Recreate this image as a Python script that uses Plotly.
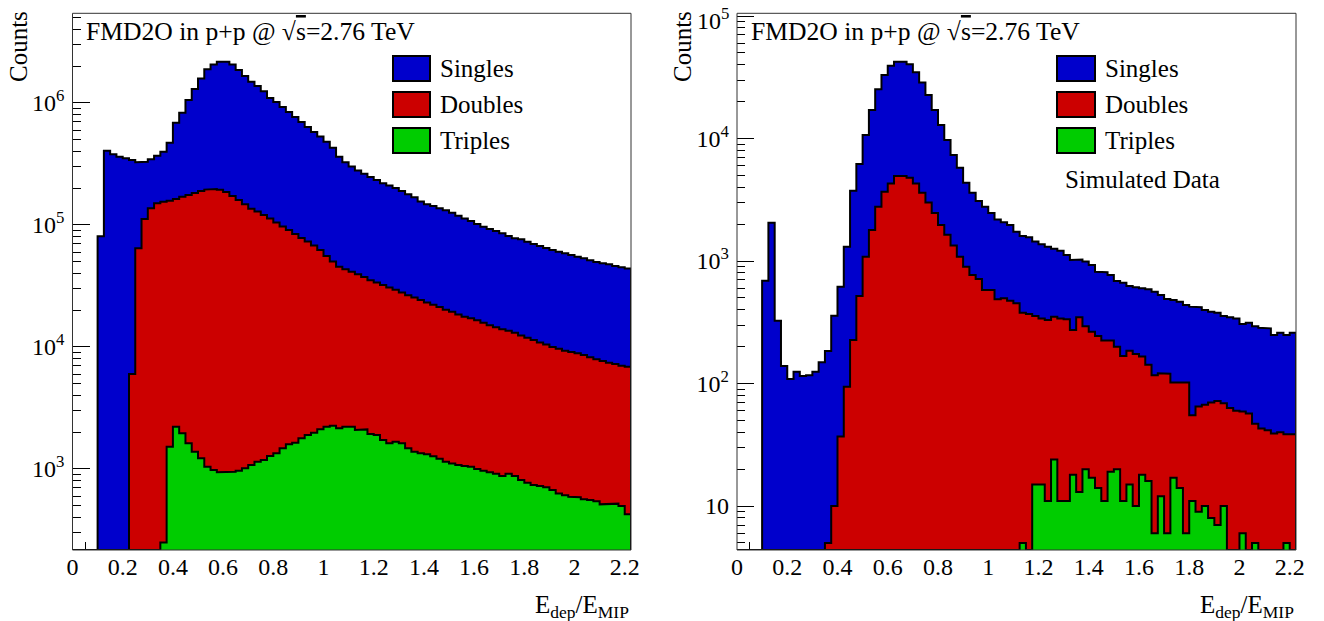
import plotly.graph_objects as go

W, H = 1324, 621

# ---------------- data (bin width 0.025, 89 bins from 0 to 2.225) ----------------
bin_width = 0.025
n_bins = 89
edges = [round(i * bin_width, 4) for i in range(n_bins + 1)]

# Left panel: FMD2O data (visible stacked outline heights)
left_singles = [0, 0, 0, 0, 81000, 405000, 380000, 363000, 352000, 341000,
                327000, 330000, 346000, 370000, 399000, 473000, 690000, 830000, 1060000, 1300000,
                1590000, 1890000, 2070000, 2180000, 2180000, 2070000, 1860000, 1660000, 1490000, 1380000,
                1250000, 1100000, 1020000, 927000, 843000, 767000, 698000, 635000, 578000, 531000,
                480000, 430000, 363000, 327000, 301000, 279000, 263000, 247000, 234000, 220000,
                211000, 201000, 190000, 179000, 169000, 156000, 148000, 143000, 137000, 132000,
                126000, 119000, 113000, 108000, 102000, 96800, 92700, 89300, 85500, 81300,
                77800, 76400, 72900, 69800, 67300, 64700, 62400, 60400, 58600, 56800,
                55000, 53300, 51400, 49800, 48500, 47600, 46100, 45000, 43900]
left_doubles = [0, 0, 0, 0, 0, 0, 0, 0, 0, 6010,
                64400, 112000, 137000, 151000, 155000, 158000, 163000, 170000, 176000, 183000,
                190000, 195000, 197000, 194000, 186000, 173000, 160000, 148000, 136000, 129000,
                121000, 113000, 105000, 97300, 91000, 84300, 78200, 73300, 67900, 62400,
                55600, 50200, 45500, 43400, 41400, 39400, 37500, 35200, 33700, 32200,
                30800, 29500, 27900, 26500, 25400, 24300, 23200, 22200, 21300, 20200,
                19400, 18500, 17700, 17200, 16600, 15800, 15100, 14500, 14000, 13600,
                13100, 12400, 11900, 11400, 10900, 10500, 10000, 9680, 9330, 9100,
                8870, 8590, 8240, 7930, 7670, 7430, 7260, 7030, 6900]
left_triples = [0, 0, 0, 0, 0, 0, 0, 0, 0, 0,
                0, 0, 0, 0, 250, 1525, 2220, 1960, 1625, 1387,
                1224, 1045, 981, 940, 950, 950, 968, 1013, 1079, 1148,
                1186, 1278, 1343, 1476, 1592, 1643, 1783, 1898, 1983, 2112,
                2222, 2264, 2153, 2222, 2222, 2085, 2110, 1936, 1898, 1729,
                1625, 1670, 1625, 1476, 1387, 1343, 1318, 1270, 1215, 1148,
                1110, 1079, 1060, 1045, 1000, 968, 940, 913, 877, 913,
                877, 813, 773, 740, 724, 708, 673, 631, 610, 593,
                586, 564, 556, 545, 513, 513, 520, 498, 425]

# Right panel: simulated data
right_singles = [0, 0, 0, 0, 690, 2055, 326, 139, 109, 125,
                 115, 117, 125, 149, 184, 358, 617, 1309, 3750, 6200,
                 10700, 17100, 25200, 33000, 39200, 42400, 42400, 40400, 34700, 28600,
                 22600, 17100, 12900, 9720, 7330, 5780, 4360, 3610, 3090, 2770,
                 2470, 2180, 2070, 1970, 1730, 1600, 1560, 1440, 1370, 1310,
                 1260, 1210, 1120, 1020, 1030, 990, 927, 818, 809, 769,
                 687, 665, 625, 610, 598, 587, 561, 527, 490, 481,
                 466, 438, 424, 419, 398, 386, 379, 355, 347, 340,
                 306, 313, 294, 285, 282, 249, 260, 249, 260]
right_doubles = [0, 0, 0, 0, 0, 0, 0, 0, 0, 0,
                 0, 0, 0, 0, 5, 10, 37, 94, 227, 518,
                 1084, 1790, 2770, 3680, 4300, 4940, 4940, 4790, 4300, 3610,
                 3010, 2470, 1970, 1640, 1340, 1084, 898, 769, 713, 580,
                 580, 487, 496, 474, 452, 379, 369, 355, 340, 330,
                 351, 340, 334, 273, 347, 294, 265, 244, 224, 224,
                 200, 168, 185, 174, 166, 142, 117, 121, 120, 102,
                 102, 102, 55, 65, 67, 70, 72, 69, 63, 60,
                 59, 57, 47, 43, 41.6, 39, 40, 38.5, 38.5]
right_triples = [0, 0, 0, 0, 0, 0, 0, 0, 0, 0,
                 0, 0, 0, 0, 0, 0, 0, 0, 0, 0,
                 0, 0, 0, 0, 0, 0, 0, 0, 0, 0,
                 0, 0, 0, 0, 0, 0, 0, 0, 0, 0,
                 0, 0, 0, 0, 0, 5, 0, 15, 15, 11,
                 24, 11, 11, 18, 13, 20, 17, 14, 11, 19,
                 20, 11, 15, 10, 18, 16, 6, 12, 6, 17,
                 14, 6, 11, 9, 10, 8, 7, 10, 0, 0,
                 6, 0, 5, 0, 0, 0, 0, 5, 0]

series_names = ["Singles", "Doubles", "Triples"]
series_colors = ["#0000CC", "#CC0000", "#00CC00"]
x_tick_vals = [0, 0.2, 0.4, 0.6, 0.8, 1.0, 1.2, 1.4, 1.6, 1.8, 2.0, 2.2]
left_y_ticks = [1e3, 1e4, 1e5, 1e6]
left_y_text = ["10<sup>3</sup>", "10<sup>4</sup>", "10<sup>5</sup>", "10<sup>6</sup>"]
right_y_ticks = [1e1, 1e2, 1e3, 1e4, 1e5]
right_y_text = ["10", "10<sup>2</sup>", "10<sup>3</sup>", "10<sup>4</sup>", ""]
right_top_label = "10<sup>5</sup>"

FONT = "Liberation Serif"
FS = 25
TICK_FS = 24

left_yrange = [2.336, 6.735]
right_yrange = [0.641, 5.022]


def fx(p):
    return p / W


def fy(p):
    return 1 - p / H


def step_path(values, floor):
    xs, ys = [edges[0]], [floor]
    for i, v in enumerate(values):
        h = v if v > floor else floor
        xs += [edges[i], edges[i + 1]]
        ys += [h, h]
    xs.append(edges[-1])
    ys.append(floor)
    return xs, ys


fig = go.Figure()

panels = [
    ("x", "y", [left_singles, left_doubles, left_triples], 10 ** left_yrange[0]),
    ("x2", "y2", [right_singles, right_doubles, right_triples], 10 ** right_yrange[0]),
]
for xa, ya, series, floor in panels:
    for name, color, vals in zip(series_names, series_colors, series):
        xs, ys = step_path(vals, floor)
        fig.add_trace(go.Scatter(
            x=xs, y=ys, mode="lines", fill="toself", fillcolor=color,
            line=dict(color="black", width=2), name=name,
            xaxis=xa, yaxis=ya, hoverinfo="skip", showlegend=False))

ydom = [fy(550), fy(13.3)]
common_x = dict(
    range=[0, 2.225], tickvals=x_tick_vals, ticks="inside", ticklen=16,
    tickcolor="black", tickwidth=1, showgrid=False, zeroline=False,
    showline=False, layer="below traces", automargin=False,
    tickfont=dict(family=FONT, size=TICK_FS, color="black"),
    minor=dict(ticks="inside", ticklen=8, dtick=0.05, tickcolor="black", showgrid=False),
)
common_y = dict(
    type="log", ticks="inside", ticklen=17,
    tickcolor="black", tickwidth=1, showgrid=False, zeroline=False,
    showline=False, layer="below traces", ticklabelstandoff=7, automargin=False,
    ticklabeloverflow="allow",
    tickfont=dict(family=FONT, size=TICK_FS, color="black"),
    minor=dict(ticks="inside", ticklen=8, dtick="D1", tickcolor="black", showgrid=False),
)

fig.update_layout(
    template="none",
    width=W, height=H,
    margin=dict(l=0, r=0, t=0, b=0, pad=0, autoexpand=False),
    paper_bgcolor="white", plot_bgcolor="white",
    showlegend=False,
    xaxis=dict(domain=[fx(72.5), fx(631)], anchor="y", **common_x),
    yaxis=dict(domain=ydom, anchor="x", range=left_yrange,
               tickvals=left_y_ticks, ticktext=left_y_text, **common_y),
    xaxis2=dict(domain=[fx(737), fx(1296)], anchor="y2", **common_x),
    yaxis2=dict(domain=ydom, anchor="x2", range=right_yrange,
                tickvals=right_y_ticks, ticktext=right_y_text, **common_y),
)

shapes = []
annotations = []

# frames
for xa, ya in [("x", "y"), ("x2", "y2")]:
    shapes.append(dict(type="rect", xref=xa + " domain", yref=ya + " domain",
                       x0=0, x1=1, y0=0, y1=1, line=dict(color="#333333", width=1),
                       fillcolor="rgba(0,0,0,0)", layer="above"))

title_text = "FMD2O in p+p @ √<span style='text-decoration:overline'>s</span>=2.76 TeV"
panel_geo = [
    # title_x, box_x0, box_x1, label_x, counts_x, xtitle_right
    (84, 393, 430, 438, 18, 631),
    (749, 1057, 1095, 1103, 682, 1296),
]
box_rows = [(56, 81), (92, 117), (128, 153)]

for tx, bx0, bx1, lx, cx, xr in panel_geo:
    annotations.append(dict(text=title_text, xref="paper", yref="paper",
                            x=fx(tx), y=fy(31), xanchor="left", yanchor="middle",
                            showarrow=False, font=dict(family=FONT, size=25.6, color="black")))
    for (r0, r1), name, color in zip(box_rows, series_names, series_colors):
        shapes.append(dict(type="rect", xref="paper", yref="paper",
                           x0=fx(bx0), x1=fx(bx1), y0=fy(r1), y1=fy(r0),
                           fillcolor=color, line=dict(color="black", width=2), layer="above"))
        annotations.append(dict(text=name, xref="paper", yref="paper",
                                x=fx(lx), y=fy((r0 + r1) / 2), xanchor="left", yanchor="middle",
                                showarrow=False, font=dict(family=FONT, size=FS, color="black")))
    annotations.append(dict(text="Counts", xref="paper", yref="paper", textangle=-90,
                            x=fx(cx), y=fy(47), xanchor="center", yanchor="middle",
                            showarrow=False, font=dict(family=FONT, size=FS, color="black")))
    annotations.append(dict(text="E<sub>dep</sub>/E<sub>MIP</sub>", xref="paper", yref="paper",
                            x=fx(xr), y=fy(606), xanchor="right", yanchor="middle",
                            showarrow=False, font=dict(family=FONT, size=FS, color="black")))

annotations.append(dict(text="Simulated Data", xref="paper", yref="paper",
                        x=fx(1063), y=fy(180), xanchor="left", yanchor="middle",
                        showarrow=False, font=dict(family=FONT, size=FS, color="black")))
# top decade label of the right panel, nudged down inside the page as in the original
annotations.append(dict(text=right_top_label, xref="paper", yref="paper",
                        x=fx(731), y=fy(19), xanchor="right", yanchor="middle",
                        showarrow=False, font=dict(family=FONT, size=TICK_FS, color="black")))

fig.update_layout(shapes=shapes, annotations=annotations)

fig.write_html("out.html", config={"displayModeBar": False},
               post_script="document.body.style.margin='0px';")
